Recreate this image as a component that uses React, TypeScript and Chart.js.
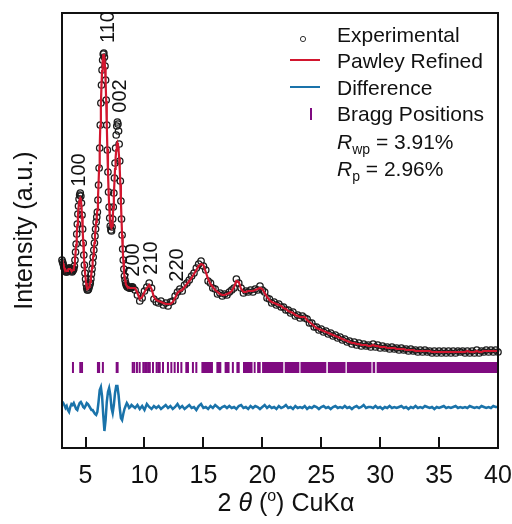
import { useEffect, useRef } from "react";
import { Chart, registerables } from "chart.js";

Chart.register(...registerables);

const FONT = '"Liberation Sans", Arial, Helvetica, sans-serif';

// ---- x ticks ----
const xTickValues = [5, 10, 15, 20, 25, 30, 35, 40];

// ---- Experimental / fit, fine segment: 2θ = 3.00 .. 9.00, step 0.05 ----
const fineStart = 3.0;
const fineStep = 0.05;
const expFine = [
  188, 186, 184, 181, 180, 178, 177, 176, 176, 177,
  178, 179, 180, 180, 179, 178, 177, 176, 177, 178,
  179, 182, 188, 196, 204, 214, 224, 234, 242, 249,
  253, 255, 252, 245, 233, 219, 205, 193, 183, 175,
  169, 164, 160, 158, 158, 159, 161, 163, 165, 169,
  174, 179, 185, 191, 198, 205, 212, 219, 226, 231,
  236, 248, 263, 280, 300, 323, 345, 363, 378, 388,
  394, 395, 391, 382, 368, 348, 323, 298, 276, 256,
  241, 230, 222, 218, 217, 221, 229, 241, 255, 270,
  285, 300, 313, 322, 326, 324, 317, 304, 287, 267,
  247, 229, 213, 199, 188, 179, 172, 168, 165, 163,
  162, 161, 161, 161, 160, 160, 160, 160, 161, 161,
  161,
];
const fitFine = [
  188, 186, 184, 182, 180, 179, 178, 177, 177, 177,
  178, 179, 179, 179, 179, 178, 177, 177, 177, 178,
  180, 183, 188, 195, 203, 213, 223, 232, 240, 246,
  249, 250, 248, 242, 232, 219, 206, 194, 184, 176,
  170, 165, 161, 159, 159, 160, 161, 163, 166, 170,
  175, 180, 186, 192, 198, 205, 212, 219, 226, 232,
  238, 249, 264, 281, 300, 322, 344, 362, 377, 387,
  393, 394, 390, 381, 367, 347, 323, 299, 277, 258,
  243, 232, 225, 221, 220, 222, 229, 240, 253, 266,
  279, 290, 298, 303, 305, 303, 298, 290, 279, 264,
  246, 229, 213, 199, 188, 179, 172, 168, 165, 163,
  162, 161, 161, 161, 160, 160, 160, 160, 160, 160,
  160,
];

// ---- coarse segment: 2θ = 9.2 .. 40.0, step 0.2 ----
const coarseStart = 9.2;
const coarseStep = 0.2;
const expCoarse = [
  158, 153, 147, 150, 157, 161, 165, 160, 149, 146,
  145, 147, 143, 145, 142, 146, 147, 152, 156, 159,
  157, 163, 165, 168, 172, 175, 180, 184, 187, 182,
  178, 167, 165, 160, 159, 154, 155, 152, 154, 153,
  156, 158, 160, 169, 165, 160, 155, 157, 156, 158,
  156, 159, 158, 162, 158, 156, 150, 149, 145, 146,
  143, 144, 141, 141, 138, 138, 135, 136, 132, 133,
  130, 132, 130, 129, 125, 125, 121, 121, 118, 119,
  116, 117, 114, 115, 112, 113, 110, 111, 108, 109,
  106, 107, 104, 106, 103, 105, 102, 104, 102, 103,
  101, 104, 101, 103, 100, 102, 100, 101, 99, 101,
  99, 100, 98, 100, 98, 99, 97, 99, 97, 98,
  96, 98, 96, 98, 96, 97, 95, 97, 95, 97,
  95, 97, 95, 97, 95, 97, 95, 97, 96, 97,
  95, 97, 95, 97, 95, 98, 95, 97, 96, 98,
  96, 98, 96, 98, 96,
];
const fitCoarse = [
  160, 155, 149, 151, 156, 160, 163, 159, 151, 148,
  147, 146, 145, 144, 144, 144, 146, 150, 155, 157,
  158, 161, 164, 167, 170, 174, 178, 182, 184, 183,
  176, 169, 164, 161, 158, 156, 154, 153, 153, 154,
  155, 157, 161, 167, 166, 159, 156, 156, 157, 157,
  157, 158, 159, 160, 159, 155, 151, 148, 146, 145,
  144, 143, 142, 140, 139, 137, 136, 135, 133, 132,
  131, 131, 131, 128, 126, 124, 122, 120, 119, 118,
  117, 116, 115, 114, 113, 112, 111, 110, 109, 108,
  107, 106, 105, 105, 104, 104, 103, 103, 103, 102,
  102, 103, 102, 102, 101, 101, 101, 100, 100, 100,
  100, 99, 99, 99, 99, 98, 98, 98, 98, 97,
  97, 97, 97, 97, 97, 97, 96, 96, 96, 96,
  96, 96, 96, 96, 96, 96, 96, 96, 96, 96,
  96, 97, 96, 96, 96, 97, 96, 96, 97, 97,
  97, 97, 97, 97, 97,
];

// ---- Difference: 3.0 .. 9.0 step 0.1, then 9.2 .. 40.0 step 0.2 ----
const diffFineStart = 3.0;
const diffFineStep = 0.1;
const diffFine = [
  44, 45, 43, 40, 42, 38, 36, 41, 44, 43,
  45, 42, 39, 38, 42, 45, 46, 44, 41, 40,
  42, 45, 44, 42, 40, 38, 38, 36, 34, 33,
  36, 46, 58, 61, 52, 33, 17, 28, 46, 56,
  60, 53, 40, 35, 43, 55, 62, 62, 53, 40,
  30, 28, 34, 39, 42, 45, 43, 40, 41, 43,
  42,
];
const diffCoarse = [
  40, 43, 39, 42, 38, 44, 41, 39, 42, 40,
  42, 39, 41, 43, 40, 42, 39, 41, 44, 40,
  42, 39, 41, 43, 40, 41, 38, 42, 44, 40,
  41, 39, 42, 40, 43, 41, 39, 41, 42, 40,
  42, 40, 41, 39, 42, 43, 40, 41, 39, 42,
  40, 42, 41, 39, 41, 43, 40, 42, 40, 41,
  39, 42, 40, 41, 43, 40, 41, 39, 42, 40,
  41, 40, 42, 39, 41, 40, 42, 41, 39, 41,
  42, 40, 41, 39, 41, 42, 40, 41, 40, 42,
  40, 41, 39, 41, 42, 40, 41, 43, 40, 41,
  41, 40, 42, 40, 41, 39, 41, 40, 42, 40,
  41, 40, 41, 42, 40, 41, 39, 41, 40, 42,
  40, 41, 40, 42, 41, 40, 41, 39, 41, 40,
  41, 42, 40, 41, 40, 41, 42, 40, 41, 40,
  41, 40, 42, 41, 40, 41, 40, 42, 41, 40,
  41, 40, 42, 41, 41,
];

// ---- Bragg positions ----
const braggLevel = 80.5;
const braggTicks = [
  3.93, 4.55, 4.7, 6.05, 6.15, 6.47, 7.64, 7.72, 9.0, 9.13, 9.36, 9.59,
  9.9, 10.05, 10.2, 10.33, 10.45, 10.72, 11.03, 11.17, 11.29, 11.57,
  11.99, 12.28, 12.56, 12.84, 13.13, 13.55, 13.69, 14.11, 14.4, 17.5,
];
const braggBandStart = [14.83, 16.1, 16.8, 17.8, 18.36, 19.27, 19.56, 19.98, 21.9, 23.24, 25.56, 27.17, 29.36, 29.7];
const braggBandEnd = [15.81, 16.52, 17.22, 18.08, 19.17, 19.43, 19.86, 21.78, 23.14, 25.43, 27.06, 29.26, 29.58, 40.0];

// ---- peak labels ----
const peakLabels = ["100", "110", "002", "200", "210", "220"];
const peakTheta = [4.49, 6.96, 7.96, 9.09, 10.58, 12.77];
const peakIntensity = [278, 421, 352, 188, 190, 183];

const RED = "#D2162E";
const BLUE = "#1A73AA";
const PURPLE = "#7F0A80";
const INK = "#111111";

function grid(values: number[], start: number, step: number) {
  return values.map((v, i) => ({ x: +(start + i * step).toFixed(3), y: v }));
}

const decorPlugin = {
  id: "decor",
  afterDraw(chart: any) {
    const { ctx, chartArea: a, scales } = chart;
    const xs = scales.x;
    const ys = scales.y;
    ctx.save();
    // frame
    ctx.strokeStyle = INK;
    ctx.lineWidth = 2;
    ctx.strokeRect(a.left, a.top, a.right - a.left, a.bottom - a.top);
    // inward ticks
    ctx.beginPath();
    for (const v of xTickValues) {
      const px = Math.round(xs.getPixelForValue(v));
      ctx.moveTo(px, a.bottom);
      ctx.lineTo(px, a.bottom - 11);
    }
    ctx.stroke();

    // peak labels
    ctx.fillStyle = INK;
    ctx.font = `20px ${FONT}`;
    ctx.textAlign = "center";
    ctx.textBaseline = "middle";
    peakLabels.forEach((t, i) => {
      const px = xs.getPixelForValue(peakTheta[i]);
      const py = ys.getPixelForValue(peakIntensity[i]);
      ctx.save();
      ctx.translate(px, py);
      ctx.rotate(-Math.PI / 2);
      ctx.fillText(t, 0, 0);
      ctx.restore();
    });

    // y title
    ctx.save();
    ctx.font = `25px ${FONT}`;
    ctx.translate(25, (a.top + a.bottom) / 2);
    ctx.rotate(-Math.PI / 2);
    ctx.textAlign = "center";
    ctx.textBaseline = "middle";
    ctx.fillText("Intensity (a.u.)", 0, 0);
    ctx.restore();

    // x title: 2 θ (°) CuKα
    ctx.textAlign = "left";
    ctx.textBaseline = "alphabetic";
    const normal = `25px ${FONT}`;
    const italic = `italic 25px ${FONT}`;
    const sup = `16px ${FONT}`;
    const parts: [string, string, number][] = [
      ["2 ", normal, 0],
      ["θ", italic, 0],
      [" (", normal, 0],
      ["o", sup, -10],
      [") CuKα", normal, 0],
    ];
    let total = 0;
    for (const [t, f] of parts) {
      ctx.font = f;
      total += ctx.measureText(t).width;
    }
    let cx = 286 - total / 2;
    const base = 511;
    for (const [t, f, dy] of parts) {
      ctx.font = f;
      ctx.fillText(t, cx, base + dy);
      cx += ctx.measureText(t).width;
    }

    // legend
    const tx = 337;
    ctx.font = `21px ${FONT}`;
    ctx.beginPath();
    ctx.strokeStyle = "#333";
    ctx.lineWidth = 1;
    ctx.arc(303, 39, 2.6, 0, Math.PI * 2);
    ctx.stroke();
    ctx.fillText("Experimental", tx, 42);

    ctx.strokeStyle = RED;
    ctx.lineWidth = 2;
    ctx.beginPath();
    ctx.moveTo(290, 60);
    ctx.lineTo(320, 60);
    ctx.stroke();
    ctx.fillText("Pawley Refined", tx, 68);

    ctx.strokeStyle = BLUE;
    ctx.beginPath();
    ctx.moveTo(290, 87);
    ctx.lineTo(320, 87);
    ctx.stroke();
    ctx.fillText("Difference", tx, 95);

    ctx.strokeStyle = PURPLE;
    ctx.beginPath();
    ctx.moveTo(311, 108);
    ctx.lineTo(311, 120);
    ctx.stroke();
    ctx.fillText("Bragg Positions", tx, 121);

    const rLine = (sub: string, rest: string, y: number) => {
      let x = tx;
      ctx.font = `italic 21px ${FONT}`;
      ctx.fillText("R", x, y);
      x += ctx.measureText("R").width;
      ctx.font = `14px ${FONT}`;
      ctx.fillText(sub, x, y + 5);
      x += ctx.measureText(sub).width;
      ctx.font = `21px ${FONT}`;
      ctx.fillText(rest, x, y);
    };
    rLine("wp", " = 3.91%", 149);
    rLine("p", " = 2.96%", 176);
    ctx.restore();
  },
};

export default function App() {
  const ref = useRef<HTMLCanvasElement | null>(null);
  useEffect(() => {
    document.body.style.margin = "0";
    const canvas = ref.current;
    if (!canvas) return;

    const bandData: any[] = [];
    braggBandStart.forEach((s, i) => {
      bandData.push({ x: s, y: braggLevel });
      bandData.push({ x: braggBandEnd[i], y: braggLevel });
      if (i < braggBandStart.length - 1) {
        bandData.push({ x: (braggBandEnd[i] + braggBandStart[i + 1]) / 2, y: null });
      }
    });

    const chart = new Chart(canvas, {
      type: "line",
      data: {
        datasets: [
          {
            label: "Pawley Refined",
            data: [...grid(fitFine, fineStart, fineStep), ...grid(fitCoarse, coarseStart, coarseStep)],
            borderColor: RED,
            borderWidth: 2.2,
            pointRadius: 0,
            tension: 0,
            order: 0,
          },
          {
            label: "Experimental",
            data: [...grid(expFine, fineStart, fineStep), ...grid(expCoarse, coarseStart, coarseStep)],
            showLine: false,
            pointRadius: 3.2,
            pointBorderWidth: 1.3,
            pointBorderColor: "#1c1c1c",
            pointBackgroundColor: "rgba(0,0,0,0)",
            order: 1,
            clip: 4,
          },
          {
            label: "Difference",
            data: [...grid(diffFine, diffFineStart, diffFineStep), ...grid(diffCoarse, coarseStart, coarseStep)],
            borderColor: BLUE,
            borderWidth: 2.5,
            pointRadius: 0,
            tension: 0,
            order: 2,
          },
          {
            label: "Bragg Positions",
            data: braggTicks.map((x) => ({ x, y: braggLevel })),
            showLine: false,
            pointStyle: "line",
            rotation: 90,
            pointRadius: 5.5,
            pointBorderWidth: 2,
            pointBorderColor: PURPLE,
            order: 3,
          },
          {
            label: "Bragg bands",
            data: bandData,
            borderColor: PURPLE,
            borderWidth: 11,
            borderCapStyle: "butt",
            pointRadius: 0,
            spanGaps: false,
            order: 3,
          },
        ],
      },
      options: {
        animation: false,
        responsive: false,
        devicePixelRatio: 1,
        events: [],
        layout: { padding: { left: 0, right: 14, top: 13, bottom: 0 } },
        plugins: { legend: { display: false }, tooltip: { enabled: false } },
        scales: {
          x: {
            type: "linear",
            min: 3,
            max: 40,
            grid: { display: false },
            border: { display: false },
            afterBuildTicks: (s: any) => {
              s.ticks = xTickValues.map((v) => ({ value: v }));
            },
            ticks: {
              font: { family: FONT, size: 25 },
              color: INK,
              padding: 5,
              maxRotation: 0,
              autoSkip: false,
            },
            afterFit: (s: any) => {
              s.height = 76;
              s.paddingLeft = 0;
              s.paddingRight = 0;
            },
          },
          y: {
            type: "linear",
            min: 0,
            max: 435,
            grid: { display: false },
            border: { display: false },
            ticks: { display: false },
            afterFit: (s: any) => {
              s.width = 62;
              s.paddingTop = 0;
              s.paddingBottom = 0;
            },
          },
        },
      },
      plugins: [decorPlugin],
    } as any);
    return () => chart.destroy();
  }, []);
  return <canvas ref={ref} width={512} height={524} style={{ display: "block", width: 512, height: 524 }} />;
}
